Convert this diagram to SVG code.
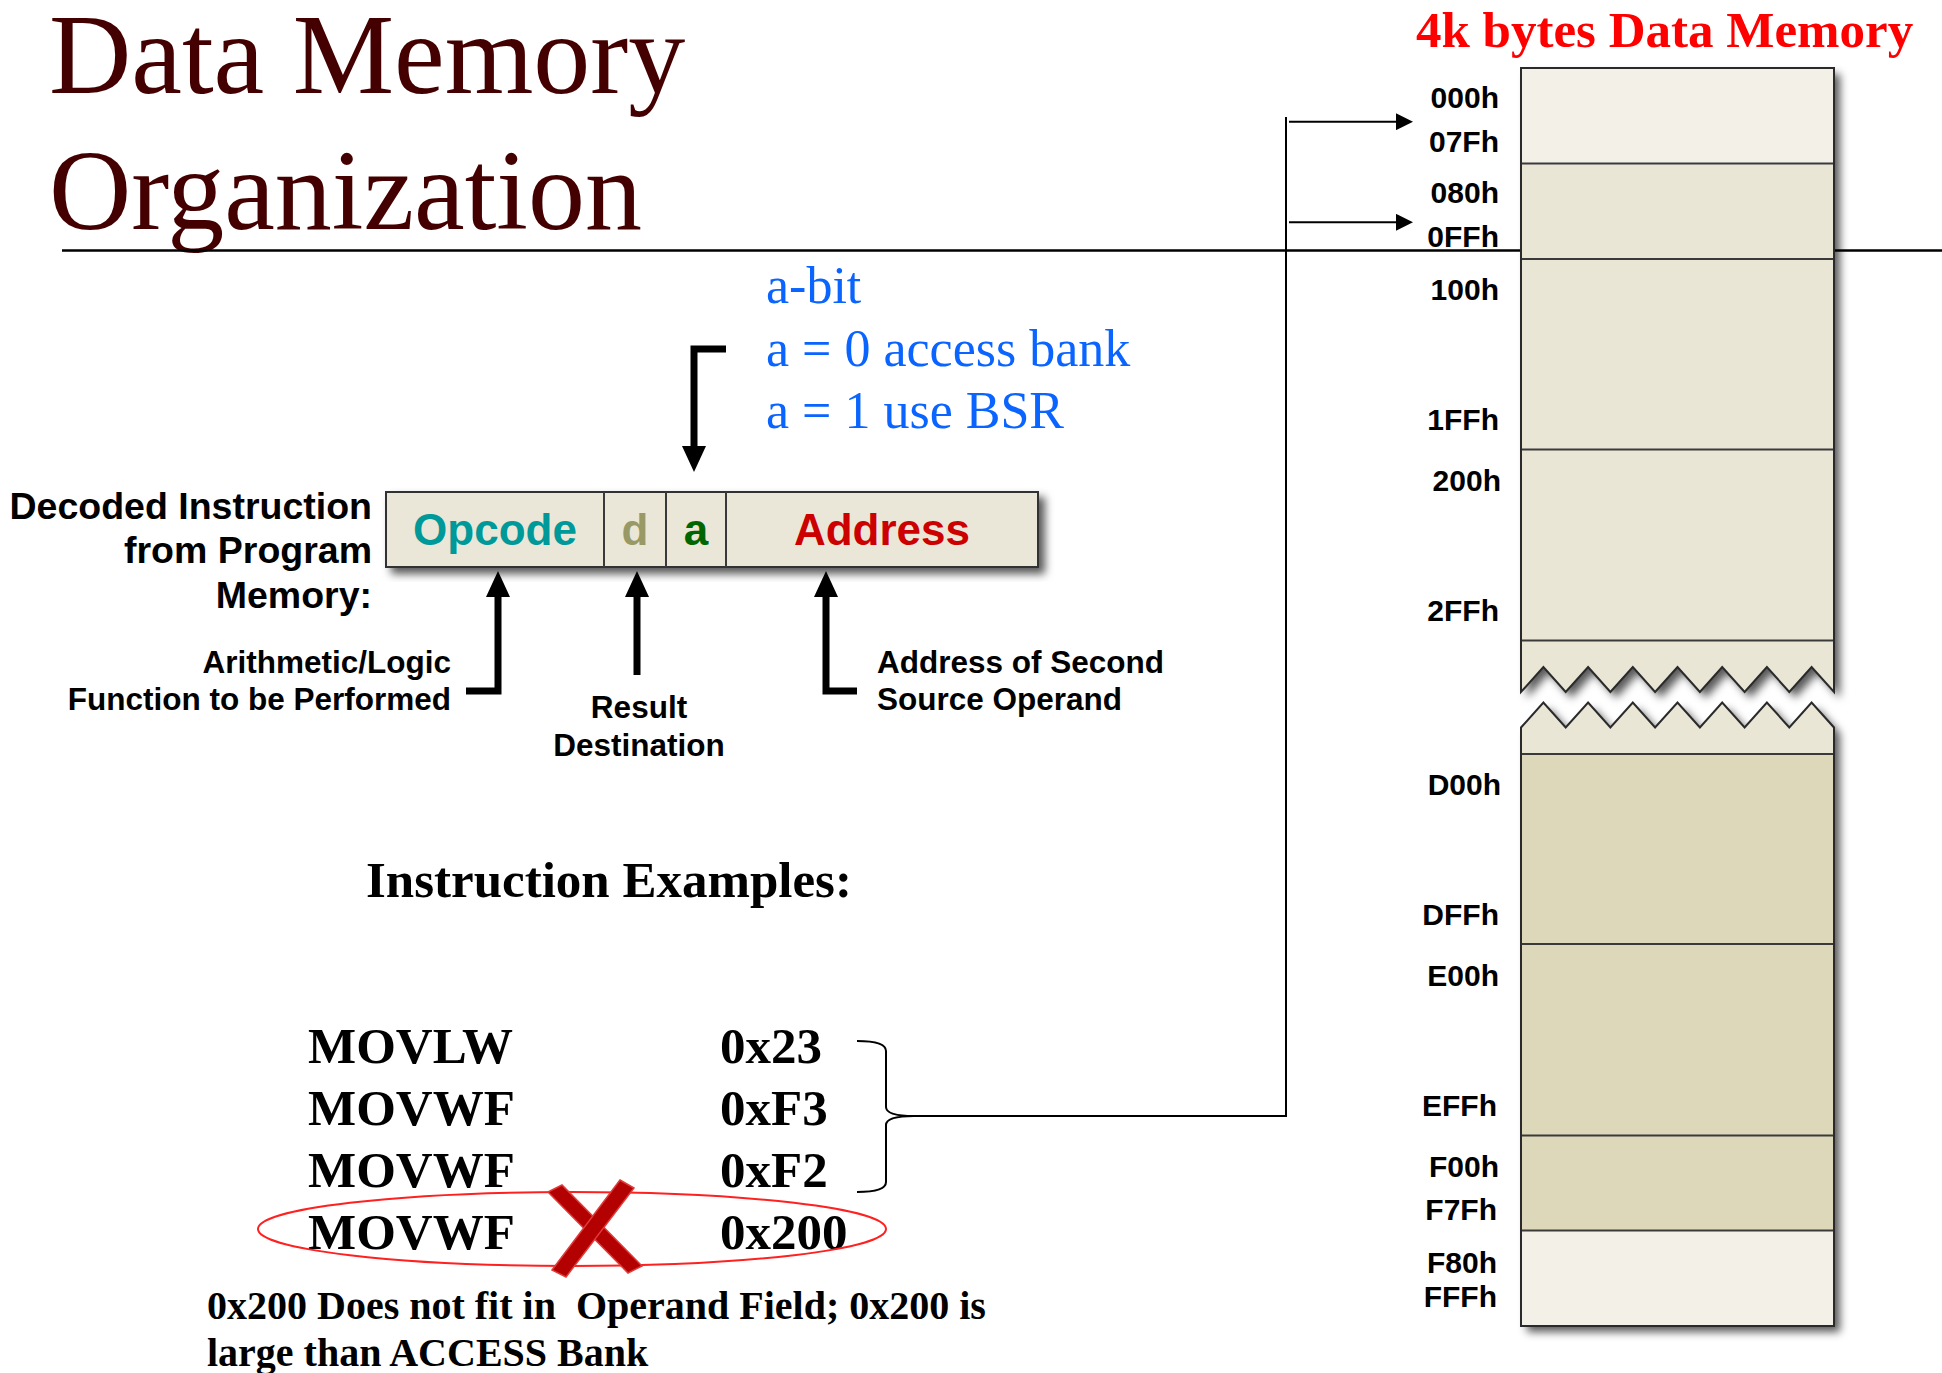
<svg xmlns="http://www.w3.org/2000/svg" width="1942" height="1373" viewBox="0 0 1942 1373">
  <defs>
    <style>
      .title { font-family: "Liberation Serif", "Times New Roman", serif; font-size: 114px; fill: #440000; }
      .memtitle { font-family: "Liberation Serif", "Times New Roman", serif; font-size: 51px; font-weight: bold; fill: #ff0000; }
      .addr { font-family: "Liberation Sans", Arial, sans-serif; font-size: 30px; font-weight: bold; fill: #000; text-anchor: end; }
      .lbl { font-family: "Liberation Sans", Arial, sans-serif; font-weight: bold; fill: #000; }
      .cap { font-size: 37.5px; text-anchor: end; }
      .small { font-size: 31.5px; }
      .field { font-family: "Liberation Sans", Arial, sans-serif; font-size: 44px; font-weight: bold; text-anchor: middle; }
      .note { font-family: "Liberation Serif", "Times New Roman", serif; font-size: 52px; fill: #0a64ff; }
      .ex { font-family: "Liberation Serif", "Times New Roman", serif; font-size: 51px; font-weight: bold; fill: #000; }
      .foot { font-family: "Liberation Serif", "Times New Roman", serif; font-size: 40px; font-weight: bold; fill: #000; white-space: pre; }
      .seg-edge { fill: none; stroke: #2a2a2a; stroke-width: 2; }
      .divider { stroke: #3a3a3a; stroke-width: 2; }
      .thick { fill: none; stroke: #000; stroke-width: 7; stroke-linejoin: miter; }
      .thin { fill: none; stroke: #000; stroke-width: 2; }
    </style>
    <filter id="shadow" x="-10%" y="-10%" width="130%" height="130%">
      <feDropShadow dx="6" dy="6" stdDeviation="4" flood-color="#000" flood-opacity="0.65"/>
    </filter>
    <marker id="thick-head" markerUnits="userSpaceOnUse" markerWidth="26" markerHeight="24" viewBox="0 0 26 24" refX="0" refY="12" orient="auto">
      <path d="M0,0 L26,12 L0,24 Z" fill="#000"/>
    </marker>
    <marker id="thin-head" markerUnits="userSpaceOnUse" markerWidth="17" markerHeight="17" viewBox="0 0 17 17" refX="0" refY="8.5" orient="auto">
      <path d="M0,0 L17,8.5 L0,17 Z" fill="#000"/>
    </marker>
  </defs>

  <rect x="0" y="0" width="1942" height="1373" fill="#ffffff"/>

  <!-- Slide heading -->
  <g id="heading">
    <text class="title" x="49" y="93">Data Memory</text>
    <text class="title" x="49" y="229">Organization</text>
  </g>

  <!-- Rule under the heading -->
  <line x1="62" y1="250.5" x2="1942" y2="250.5" stroke="#000" stroke-width="2.5"/>

  <g id="memory-title">
    <text class="memtitle" x="1416" y="47">4k bytes Data Memory</text>
  </g>

  <!-- Data memory map, split by a torn gap -->
  <g id="memory-upper">
    <path d="M1521,68 H1834 V692 L1811.6,667 L1789.3,692 L1766.9,667 L1744.6,692 L1722.2,667 L1699.9,692 L1677.5,667 L1655.1,692 L1632.8,667 L1610.4,692 L1588.1,667 L1565.7,692 L1543.4,667 L1521,692 Z" fill="#eae6d6" filter="url(#shadow)"/>
    <rect x="1521" y="68" width="313" height="95.5" fill="#f3f0e8"/>
    <line class="divider" x1="1521" y1="163.5" x2="1834" y2="163.5"/>
    <line class="divider" x1="1521" y1="259" x2="1834" y2="259"/>
    <line class="divider" x1="1521" y1="449.5" x2="1834" y2="449.5"/>
    <line class="divider" x1="1521" y1="640.5" x2="1834" y2="640.5"/>
    <path class="seg-edge" d="M1521,68 H1834 V692 L1811.6,667 L1789.3,692 L1766.9,667 L1744.6,692 L1722.2,667 L1699.9,692 L1677.5,667 L1655.1,692 L1632.8,667 L1610.4,692 L1588.1,667 L1565.7,692 L1543.4,667 L1521,692 Z"/>
  </g>

  <g id="memory-lower">
    <path d="M1521,727.5 L1543.4,702.5 L1565.7,727.5 L1588.1,702.5 L1610.4,727.5 L1632.8,702.5 L1655.1,727.5 L1677.5,702.5 L1699.9,727.5 L1722.2,702.5 L1744.6,727.5 L1766.9,702.5 L1789.3,727.5 L1811.6,702.5 L1834,727.5 V1326 H1521 Z" fill="#eae6d6" filter="url(#shadow)"/>
    <rect x="1521" y="754" width="313" height="476.5" fill="#ddd8ba"/>
    <rect x="1521" y="1230.5" width="313" height="95.5" fill="#f3f0e8"/>
    <line class="divider" x1="1521" y1="754" x2="1834" y2="754"/>
    <line class="divider" x1="1521" y1="944" x2="1834" y2="944"/>
    <line class="divider" x1="1521" y1="1135.5" x2="1834" y2="1135.5"/>
    <line class="divider" x1="1521" y1="1230.5" x2="1834" y2="1230.5"/>
    <path class="seg-edge" d="M1521,727.5 L1543.4,702.5 L1565.7,727.5 L1588.1,702.5 L1610.4,727.5 L1632.8,702.5 L1655.1,727.5 L1677.5,702.5 L1699.9,727.5 L1722.2,702.5 L1744.6,727.5 L1766.9,702.5 L1789.3,727.5 L1811.6,702.5 L1834,727.5 V1326 H1521 Z"/>
  </g>

  <!-- Address boundaries -->
  <g id="memory-addresses">
    <text class="addr" x="1499" y="108">000h</text>
    <text class="addr" x="1499" y="152">07Fh</text>
    <text class="addr" x="1499" y="203">080h</text>
    <text class="addr" x="1499" y="247">0FFh</text>
    <text class="addr" x="1499" y="300">100h</text>
    <text class="addr" x="1499" y="430">1FFh</text>
    <text class="addr" x="1501" y="491">200h</text>
    <text class="addr" x="1499" y="621">2FFh</text>
    <text class="addr" x="1501" y="795">D00h</text>
    <text class="addr" x="1499" y="925">DFFh</text>
    <text class="addr" x="1499" y="986">E00h</text>
    <text class="addr" x="1497" y="1116">EFFh</text>
    <text class="addr" x="1499" y="1177">F00h</text>
    <text class="addr" x="1497" y="1220">F7Fh</text>
    <text class="addr" x="1497" y="1273">F80h</text>
    <text class="addr" x="1497" y="1307">FFFh</text>
  </g>

  <!-- Decoded instruction word -->
  <g id="instruction-word">
    <rect x="386" y="492" width="652" height="75" fill="#ebe7d8" stroke="#333" stroke-width="2" filter="url(#shadow)"/>
    <line class="divider" x1="604" y1="492" x2="604" y2="567"/>
    <line class="divider" x1="666" y1="492" x2="666" y2="567"/>
    <line class="divider" x1="726" y1="492" x2="726" y2="567"/>
    <text class="field" x="495" y="545" fill="#009999">Opcode</text>
    <text class="field" x="635" y="545" fill="#999966">d</text>
    <text class="field" x="696" y="545" fill="#006600">a</text>
    <text class="field" x="882" y="545" fill="#cc0000">Address</text>
  </g>

  <g id="word-caption">
    <text class="lbl cap" x="372" y="519">Decoded Instruction</text>
    <text class="lbl cap" x="372" y="563">from Program</text>
    <text class="lbl cap" x="372" y="608">Memory:</text>
  </g>

  <g id="opcode-note">
    <text class="lbl small" text-anchor="end" x="451" y="673">Arithmetic/Logic</text>
    <text class="lbl small" text-anchor="end" x="451" y="710">Function to be Performed</text>
  </g>

  <g id="d-note">
    <text class="lbl small" text-anchor="middle" x="639" y="718">Result</text>
    <text class="lbl small" text-anchor="middle" x="639" y="756">Destination</text>
  </g>

  <g id="address-note">
    <text class="lbl small" x="877" y="673">Address of Second</text>
    <text class="lbl small" x="877" y="710">Source Operand</text>
  </g>

  <g id="abit-note">
    <text class="note" x="766" y="303">a-bit</text>
    <text class="note" x="766" y="366">a = 0 access bank</text>
    <text class="note" x="766" y="428">a = 1 use BSR</text>
  </g>

  <!-- Instruction examples -->
  <g id="examples">
    <text class="ex" x="366" y="897" font-size="52.5">Instruction Examples:</text>
    <text class="ex" x="308" y="1063">MOVLW</text>
    <text class="ex" x="720" y="1063">0x23</text>
    <text class="ex" x="308" y="1125">MOVWF</text>
    <text class="ex" x="720" y="1125">0xF3</text>
    <text class="ex" x="308" y="1187">MOVWF</text>
    <text class="ex" x="720" y="1187">0xF2</text>
    <text class="ex" x="308" y="1249">MOVWF</text>
    <text class="ex" x="720" y="1249">0x200</text>
  </g>

  <g id="invalid-mark">
    <ellipse cx="572" cy="1229" rx="314" ry="37" fill="none" stroke="#ff2020" stroke-width="2"/>
    <polygon points="548,1192 562,1185 642,1266 628,1273" fill="#b30000" stroke="#e03a3a" stroke-width="1.5"/>
    <polygon points="620,1180 634,1188 566,1277 552,1270" fill="#b30000" stroke="#e03a3a" stroke-width="1.5"/>
  </g>

  <g id="footnote">
    <text class="foot" x="207" y="1319">0x200 Does not fit in  Operand Field; 0x200 is</text>
    <text class="foot" x="207" y="1366">large than ACCESS Bank</text>
  </g>

  <!-- Connectors -->
  <g id="connectors">
    <path class="thick" d="M726,349 H694 V446" marker-end="url(#thick-head)"/>
    <path class="thick" d="M466,691 H498 V597" marker-end="url(#thick-head)"/>
    <path class="thick" d="M637,675 V597" marker-end="url(#thick-head)"/>
    <path class="thick" d="M857,691 H826 V597" marker-end="url(#thick-head)"/>
    <path class="thin" d="M857,1041 Q886,1041 886,1051 V1107 Q886,1116 914,1116 Q886,1116 886,1125 V1182 Q886,1192 857,1192"/>
    <path class="thin" d="M914,1116 H1286 V117"/>
    <path class="thin" d="M1289,121.7 H1396" marker-end="url(#thin-head)"/>
    <path class="thin" d="M1289,222.3 H1396" marker-end="url(#thin-head)"/>
  </g>
</svg>
